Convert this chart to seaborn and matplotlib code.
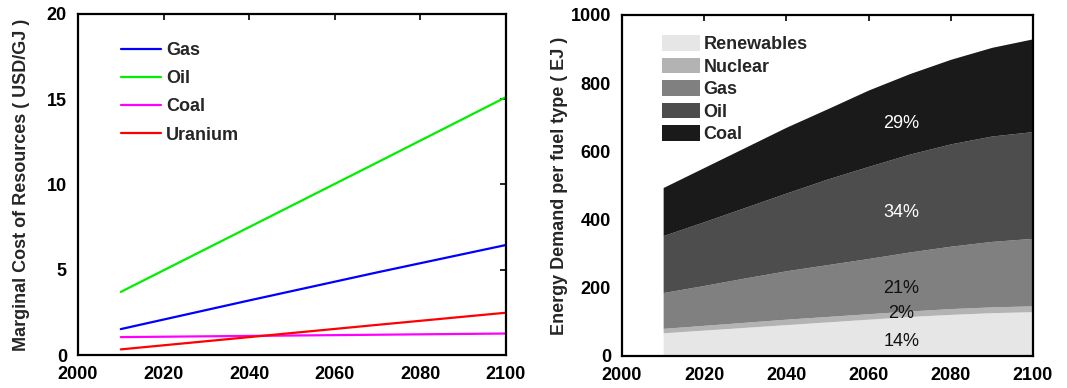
import numpy as np
import pandas as pd
import matplotlib
matplotlib.use("Agg")
import matplotlib.pyplot as plt
import seaborn as sns
from matplotlib.patches import Patch

# left panel: marginal cost of resources (USD/GJ)
cost_years = [2010, 2040, 2070, 2100]
gas_cost = [1.52, 3.2, 4.85, 6.45]
oil_cost = [3.7, 7.5, 11.3, 15.12]
coal_cost = [1.05, 1.12, 1.19, 1.26]
uranium_cost = [0.33, 1.05, 1.77, 2.48]

# right panel: energy demand per fuel type (EJ)
years = [2010, 2020, 2030, 2040, 2050, 2060, 2070, 2080, 2090, 2100]
renewables = [68, 76, 84, 92, 100, 108, 116, 122, 127, 130]
nuclear = [13, 14, 15, 16, 16, 16, 16, 17, 17, 17]
gas = [105, 117, 130, 142, 152, 162, 173, 183, 192, 198]
oil = [167, 187, 207, 228, 251, 270, 287, 300, 309, 313]
coal = [141, 159, 176, 193, 206, 224, 236, 248, 260, 272]

fuels = ["Renewables", "Nuclear", "Gas", "Oil", "Coal"]
fuel_colors = ["#e6e6e6", "#b3b3b3", "#808080", "#4d4d4d", "#1a1a1a"]
label_colors = ["#111111", "#111111", "#111111", "white", "white"]
label_y = [42, 125, 198, 420, 682]

sns.set_theme(style="white")
plt.rcParams["font.family"] = ["Liberation Sans", "DejaVu Sans"]
plt.rcParams["font.weight"] = "bold"

fig = plt.figure(figsize=(10.67, 3.88), dpi=100)
ax1 = fig.add_axes([0.0731, 0.085, 0.401, 0.879])
ax2 = fig.add_axes([0.583, 0.0825, 0.385, 0.879])

cost = pd.DataFrame({"year": cost_years * 4,
                     "cost": gas_cost + oil_cost + coal_cost + uranium_cost,
                     "fuel": ["Gas"] * 4 + ["Oil"] * 4 + ["Coal"] * 4 + ["Uranium"] * 4})
sns.lineplot(data=cost, x="year", y="cost", hue="fuel", ax=ax1,
             palette={"Gas": "#0000ff", "Oil": "#00ee00", "Coal": "#ff00ff", "Uranium": "#ff0000"},
             linewidth=1.6)
ax1.set_xlim(2000, 2100)
ax1.set_ylim(0, 20)
ax1.set_xticks(range(2000, 2101, 20))
ax1.set_yticks(range(0, 21, 5))
ax1.set_xlabel("")
ax1.set_ylabel("Marginal Cost of Resources ( USD/GJ )", fontsize=13, fontweight="bold")
ax1.yaxis.set_label_coords(-0.112, 0.5)
leg1 = ax1.legend(loc="upper left", bbox_to_anchor=(0.1, 0.918), borderaxespad=0, borderpad=0,
                  frameon=False, fontsize=13, handlelength=2.2, labelspacing=0.62,
                  handletextpad=0.3)
for t in leg1.get_texts():
    t.set_fontweight("bold")

layers = np.vstack([renewables, nuclear, gas, oil, coal])
ax2.stackplot(years, layers, colors=fuel_colors, linewidth=0)
total = layers[:, -1].sum()
for val, ly, c in zip(layers[:, -1], label_y, label_colors):
    ax2.text(2068, ly, f"{round(100 * val / total)}%", color=c, fontsize=13,
             fontweight="normal", ha="center", va="center")
ax2.set_xlim(2000, 2100)
ax2.set_ylim(0, 1000)
ax2.set_xticks(range(2000, 2101, 20))
ax2.set_yticks(range(0, 1001, 200))
ax2.set_ylabel("Energy Demand per fuel type ( EJ )", fontsize=13, fontweight="bold")
ax2.yaxis.set_label_coords(-0.131, 0.5)
handles = [Patch(facecolor=c, edgecolor="none", label=f) for f, c in zip(fuels, fuel_colors)]
ax2.legend(handles=handles, loc="upper left", bbox_to_anchor=(0.097, 0.94), borderaxespad=0,
           borderpad=0, frameon=False, prop={"size": 13, "weight": "bold"},
           handlelength=2.1, handleheight=0.95, labelspacing=0.25, handletextpad=0.2)

for ax in (ax1, ax2):
    ax.tick_params(direction="in", top=True, right=True, length=4, width=1.2,
                   labelsize=13, colors="black", pad=8)
    for lab in ax.get_xticklabels() + ax.get_yticklabels():
        lab.set_fontweight("bold")
    for s in ax.spines.values():
        s.set_color("black")
        s.set_linewidth(1.6)

fig.savefig("out.png", dpi=100)
